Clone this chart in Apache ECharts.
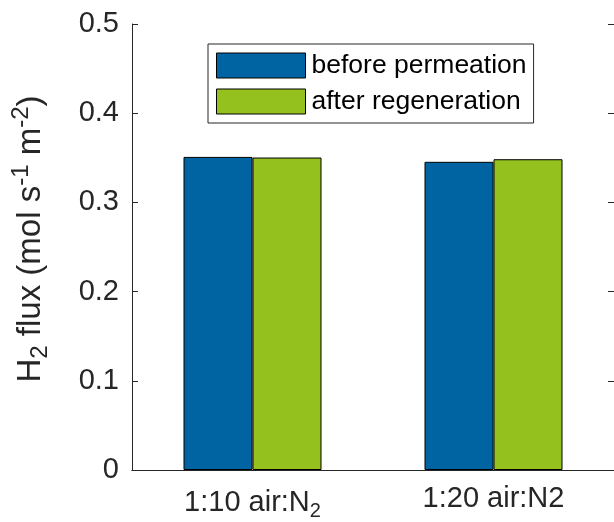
<!DOCTYPE html>
<html>
<head>
<meta charset="utf-8">
<script src="https://cdn.jsdelivr.net/npm/echarts@6/dist/echarts.min.js"></script>
<style>
    html, body { margin: 0; padding: 0; background: #fff; }
    #chart { width: 614px; height: 522px; }
</style>
</head>
<body>
<div id="chart"></div>
<script>
// data
const categories = ["1:10 air:N2", "1:20 air:N2"];
const beforePermeation = [0.351, 0.3455];
const afterRegeneration = [0.3503, 0.3484];
const yTicks = [0, 0.1, 0.2, 0.3, 0.4, 0.5];

// category label markup (first one has a subscript)
const labelMarkup = {
    "1:10 air:N2": "{n|1:10 air:N}{sub|2}",
    "1:20 air:N2": "{n|1:20 air:N2}",
};

const axisColor = "#262626";
const fontFamily = "'Liberation Sans', Arial, sans-serif";

const tickRich = {
    n: { fontSize: 29, color: axisColor, fontFamily: fontFamily },
    sub: { fontSize: 20, color: axisColor, fontFamily: fontFamily, padding: [17, 0, 0, 0] },
};

const nameRich = {
    n: { fontSize: 33, color: axisColor, fontFamily: fontFamily },
    sub: { fontSize: 24, color: axisColor, fontFamily: fontFamily, padding: [19, 0, 0, 0] },
    sup: { fontSize: 24, color: axisColor, fontFamily: fontFamily, padding: [0, 0, 19, 0] },
};

const chart = echarts.init(document.getElementById("chart"));

const barStyle = (color) => ({
    color: color,
    borderColor: "#000",
    borderWidth: 1,
});

chart.setOption({
    animation: false,
    backgroundColor: "#fff",
    grid: {
        left: 132,
        top: 24,
        width: 483,
        bottom: 52,
    },
    legend: {
        orient: "vertical",
        left: 208,
        top: 44,
        padding: [8, 7, 8, 8],
        itemGap: 9,
        itemWidth: 89,
        itemHeight: 25,
        borderColor: axisColor,
        borderWidth: 1,
        backgroundColor: "#fff",
        icon: "rect",
        itemStyle: { borderColor: "#000", borderWidth: 1 },
        textStyle: { fontSize: 26.5, color: "#000", fontFamily: fontFamily, padding: [0, 0, 0, 1] },
        data: ["before permeation", "after regeneration"],
    },
    xAxis: [
        {
            type: "category",
            data: categories,
            position: "bottom",
            axisLine: { lineStyle: { color: axisColor, width: 1 } },
            axisTick: { inside: true, alignWithLabel: true, length: 5, lineStyle: { color: axisColor } },
            axisLabel: {
                margin: 14,
                formatter: (v) => labelMarkup[v],
                rich: tickRich,
            },
        },
        {
            type: "category",
            data: categories,
            position: "top",
            axisLine: { lineStyle: { color: axisColor, width: 1 } },
            axisTick: { inside: true, alignWithLabel: true, length: 5, lineStyle: { color: axisColor } },
            axisLabel: { show: false },
        },
    ],
    yAxis: [
        {
            type: "value",
            min: yTicks[0],
            max: yTicks[yTicks.length - 1],
            interval: 0.1,
            position: "left",
            name: "{n|H}{sub|2}{n| flux (mol s}{sup|-1}{n| m}{sup|-2}{n|)}",
            nameLocation: "middle",
            nameRotate: 90,
            nameGap: 80,
            nameTextStyle: { rich: nameRich, padding: [0, 0, 0, 16] },
            splitLine: { show: false },
            axisLine: { show: true, lineStyle: { color: axisColor, width: 1 } },
            axisTick: { show: true, inside: true, length: 6, lineStyle: { color: axisColor } },
            axisLabel: {
                margin: 13,
                color: axisColor,
                fontSize: 29,
                fontFamily: fontFamily,
                formatter: (v) => (v === 0 ? "0" : v.toFixed(1)),
            },
        },
        {
            type: "value",
            min: yTicks[0],
            max: yTicks[yTicks.length - 1],
            interval: 0.1,
            position: "right",
            splitLine: { show: false },
            axisLine: { show: true, lineStyle: { color: axisColor, width: 1 } },
            axisTick: { show: true, inside: true, length: 6, lineStyle: { color: axisColor } },
            axisLabel: { show: false },
        },
    ],
    series: [
        {
            name: "before permeation",
            type: "bar",
            data: beforePermeation,
            barWidth: 69,
            barGap: "0%",
            itemStyle: barStyle("#0064a2"),
        },
        {
            name: "after regeneration",
            type: "bar",
            data: afterRegeneration,
            barWidth: 69,
            barGap: "0%",
            itemStyle: barStyle("#95c11f"),
        },
    ],
});
</script>
</body>
</html>
